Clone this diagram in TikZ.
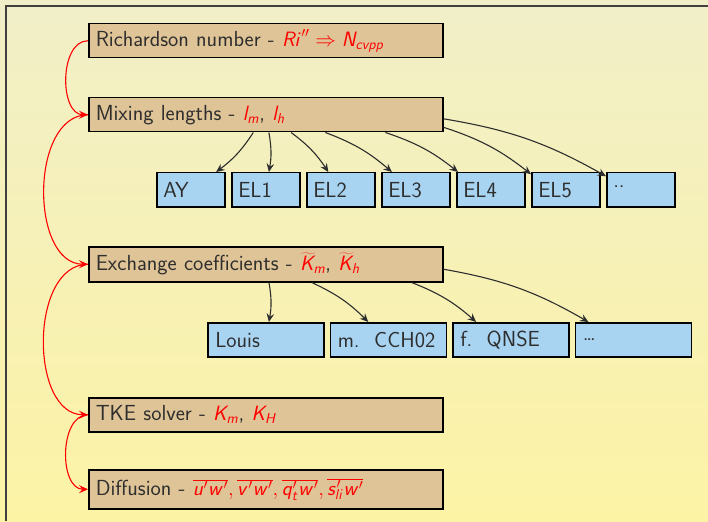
\documentclass[tikz,border=0pt]{standalone}
\usetikzlibrary{arrows.meta}
\DeclareMathAlphabet{\mathsi}{OT1}{cmss}{m}{sl}
\definecolor{boxtan}{HTML}{DFC497}
\definecolor{boxblue}{HTML}{A8D4F2}
\definecolor{bgtop}{HTML}{F1EFC8}
\definecolor{bgbot}{HTML}{FCF3A5}
\definecolor{txt}{HTML}{2E2E2E}
\begin{document}
\begin{tikzpicture}[x=1pt,y=1pt,
  font=\sffamily\fontsize{21.8}{24}\selectfont,
  bigbox/.style={draw=black, line width=1.5pt, fill=boxtan, anchor=north west,
    minimum height=34pt, text width=340pt, inner xsep=7pt, align=left, text=txt},
  elbox/.style={draw=black, line width=1.5pt, fill=boxblue, anchor=north west,
    minimum height=34pt, text width=55pt, inner xsep=6.5pt, align=left, text=txt},
  kbox/.style={draw=black, line width=1.5pt, fill=boxblue, anchor=north west,
    minimum height=34pt, text width=101pt, inner xsep=7.5pt, align=left, text=txt},
  redarr/.style={draw=red, line width=1.1pt, -{Stealth[length=9pt,width=8pt,inset=3.5pt]}},
  blkarr/.style={draw=txt, line width=1.1pt, -{Stealth[length=8.5pt,width=7.5pt,inset=3pt]}, bend left=10}
  ]
\useasboundingbox (0,0) rectangle (708,-521);
\shade[top color=bgtop, bottom color=bgbot] (0,0) rectangle (708,-521);
\draw[line width=1.2pt, black!75] (6,-521) -- (6,-6) -- (708,-6);

\node[bigbox] (rich) at (88,-23) {Richardson number - \textcolor{red}{$\mathsi{Ri}'' \Rightarrow \mathsi{N}_{\mathsi{cvpp}}$}};
\node[bigbox] (mix) at (88,-97) {Mixing lengths - \textcolor{red}{$\mathsi{l}_{\mathsi{m}}$}, \textcolor{red}{$\mathsi{l}_{\mathsi{h}}$}};
\node[bigbox, minimum height=35pt] (exch) at (88,-246) {Exchange coefficients - \textcolor{red}{$\widetilde{\mathsi{K}}_{\mathsi{m}}$}, \textcolor{red}{$\widetilde{\mathsi{K}}_{\mathsi{h}}$}};
\node[bigbox] (tke) at (88,-397) {TKE solver - \textcolor{red}{$\mathsi{K}_{\mathsi{m}}$}, \textcolor{red}{$\mathsi{K}_{\mathsi{H}}$}};
\node[bigbox, minimum height=39pt] (diff) at (88,-469) {Diffusion - \textcolor{red}{$\overline{\mathsi{u}'\mathsi{w}'},\overline{\mathsi{v}'\mathsi{w}'},\overline{\mathsi{q}'_{\mathsi{t}}\mathsi{w}'},\overline{\mathsi{s}'_{\mathsi{li}}\mathsi{w}'}$}};

\node[elbox] (ay) at (156,-172) {AY};
\node[elbox] (el1) at (231,-172) {EL1};
\node[elbox] (el2) at (306,-172) {EL2};
\node[elbox] (el3) at (381,-172) {EL3};
\node[elbox] (el4) at (456,-172) {EL4};
\node[elbox] (el5) at (531,-172) {EL5};
\node[elbox] (eldots) at (606,-172) {\raisebox{0.3em}{..}};

\node[kbox] (louis) at (207,-322) {Louis};
\node[kbox] (cch) at (329.5,-322) {m.\ \ CCH02};
\node[kbox] (qnse) at (452,-322) {f.\ \ QNSE};
\node[kbox] (kdots) at (574.5,-322) {\ldots};

\draw[redarr] (rich.west) to[out=180,in=180] (mix.west);
\draw[redarr] (mix.west) to[out=180,in=180] (exch.west);
\draw[redarr] (exch.west) to[out=180,in=180] (tke.west);
\draw[redarr] (tke.west) to[out=180,in=180] (diff.west);

\foreach \t in {ay,el1,el2,el3,el4,el5,eldots}
  \draw[blkarr] (mix) to (\t);
\foreach \t in {louis,cch,qnse,kdots}
  \draw[blkarr] (exch) to (\t);
\end{tikzpicture}
\end{document}
